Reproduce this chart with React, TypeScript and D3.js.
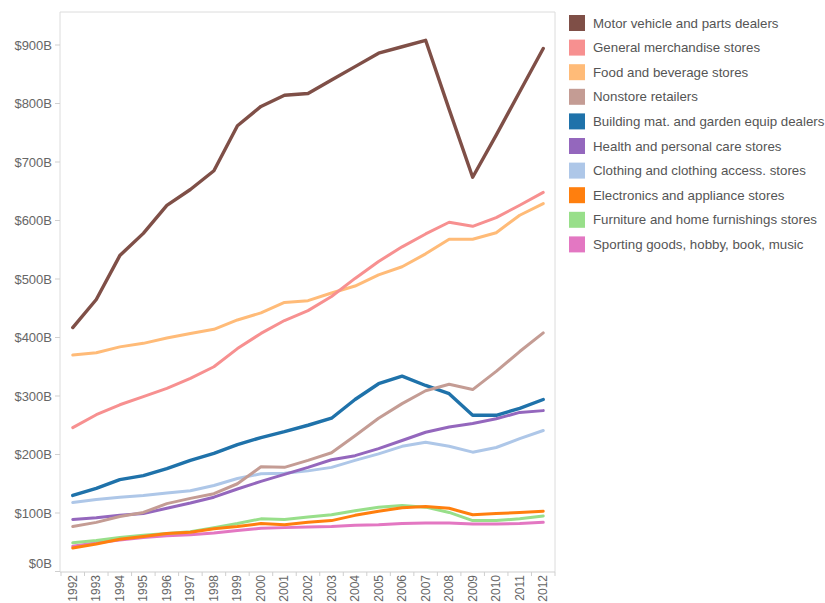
import React from "react";
import * as d3 from "d3";

const years = [1992,1993,1994,1995,1996,1997,1998,1999,2000,2001,2002,2003,2004,2005,2006,2007,2008,2009,2010,2011,2012];

const categories = [
  "Motor vehicle and parts dealers",
  "General merchandise stores",
  "Food and beverage stores",
  "Nonstore retailers",
  "Building mat. and garden equip dealers",
  "Health and personal care stores",
  "Clothing and clothing access. stores",
  "Electronics and appliance stores",
  "Furniture and home furnishings stores",
  "Sporting goods, hobby, book, music",
];

const colors = ["#7f4f47","#f79090","#ffbb78","#c49c94","#1f72aa","#9467bd","#aec7e8","#ff7f0e","#98df8a","#e377c2"];

const motorVehicle = [417,465,540,578,626,653,685,762,795,814,817,840,863,886,897,908,790,674,746,820,894];
const generalMerch = [246,268,285,299,313,330,350,381,407,429,446,470,501,530,555,577,597,590,605,626,648];
const foodBeverage = [370,374,384,390,399,407,414,430,442,460,463,476,488,507,521,543,568,568,579,609,629];
const nonstore = [77,84,94,101,116,125,133,150,179,178,190,203,232,262,287,309,320,311,342,376,408];
const building = [130,142,157,164,176,190,202,217,229,239,250,262,294,321,334,318,304,267,267,279,294];
const health = [89,92,96,99,108,117,127,141,154,166,178,191,198,210,224,238,247,253,261,272,275];
const clothing = [118,123,127,130,134,138,147,159,167,168,172,178,190,201,214,221,214,204,212,227,241];
const electronics = [40,47,55,60,65,67,73,77,82,80,84,87,96,103,109,111,108,97,99,101,103];
const furniture = [49,53,58,62,65,68,75,82,90,89,93,97,104,110,113,110,101,87,87,90,95];
const sporting = [43,49,54,58,61,63,66,70,74,75,76,77,79,80,82,83,83,81,81,82,84];

const seriesValues = [motorVehicle, generalMerch, foodBeverage, nonstore, building, health, clothing, electronics, furniture, sporting];

const yTicks = [0,100,200,300,400,500,600,700,800,900];

const FONT = "'Liberation Sans', Arial, sans-serif";

export default function App() {
  const left = 60, right = 555, top = 12, bottom = 572;
  const x = d3.scaleBand<number>().domain(years).range([61, 555]);
  const y = d3.scaleLinear().domain([0, 900]).range([571.5, 45]);
  const cx = (yr: number) => (x(yr) as number) + x.bandwidth() / 2;
  const line = d3.line<number>().x((_, i) => cx(years[i])).y((v) => y(v));

  const order = seriesValues.map((_, i) => i).reverse();

  return (
    <svg width={825} height={603} style={{ position: "absolute", left: 0, top: 0, background: "#fff" }} fontFamily={FONT}>
      <rect x={0} y={0} width={825} height={603} fill="#fff" />
      {/* pane borders */}
      <line x1={left} x2={right} y1={top} y2={top} stroke="#dcdcdc" />
      <line x1={left} x2={left} y1={top} y2={bottom} stroke="#dcdcdc" />
      <line x1={right} x2={right} y1={top} y2={bottom} stroke="#dcdcdc" />
      <line x1={left} x2={right} y1={bottom} y2={bottom} stroke="#cfcfcf" />
      {/* y axis */}
      {yTicks.map((t) => (
        <g key={t}>
          <line x1={55} x2={left} y1={y(t)} y2={y(t)} stroke="#cfcfcf" />
          <text x={52} y={Math.min(y(t), 563)} textAnchor="end" dominantBaseline="central" fontSize={13} fill="#666">
            {`$${t}B`}
          </text>
        </g>
      ))}
      {/* x axis ticks at band edges */}
      {years.map((yr) => (
        <line key={"t" + yr} x1={x(yr) as number} x2={x(yr) as number} y1={bottom} y2={bottom + 4} stroke="#cfcfcf" />
      ))}
      <line x1={right} x2={right} y1={bottom} y2={bottom + 4} stroke="#cfcfcf" />
      {years.map((yr) => (
        <text key={"l" + yr} transform={`translate(${cx(yr)},${bottom + 3}) rotate(-90)`} textAnchor="end" dominantBaseline="central" fontSize={12} fill="#666">
          {yr}
        </text>
      ))}
      {/* lines */}
      {order.map((i) => (
        <path key={categories[i]} d={line(seriesValues[i]) || ""} fill="none" stroke={colors[i]} strokeWidth={i === 0 || i === 4 ? 3.4 : 3} strokeLinejoin="round" strokeLinecap="round" />
      ))}
      {/* legend */}
      {categories.map((c, i) => {
        const cy = 23 + i * 24.6;
        return (
          <g key={"lg" + c}>
            <rect x={569} y={cy - 8} width={16} height={16} fill={colors[i]} />
            <text x={593} y={cy} dominantBaseline="central" fontSize={13.3} fill="#555">{c}</text>
          </g>
        );
      })}
    </svg>
  );
}
